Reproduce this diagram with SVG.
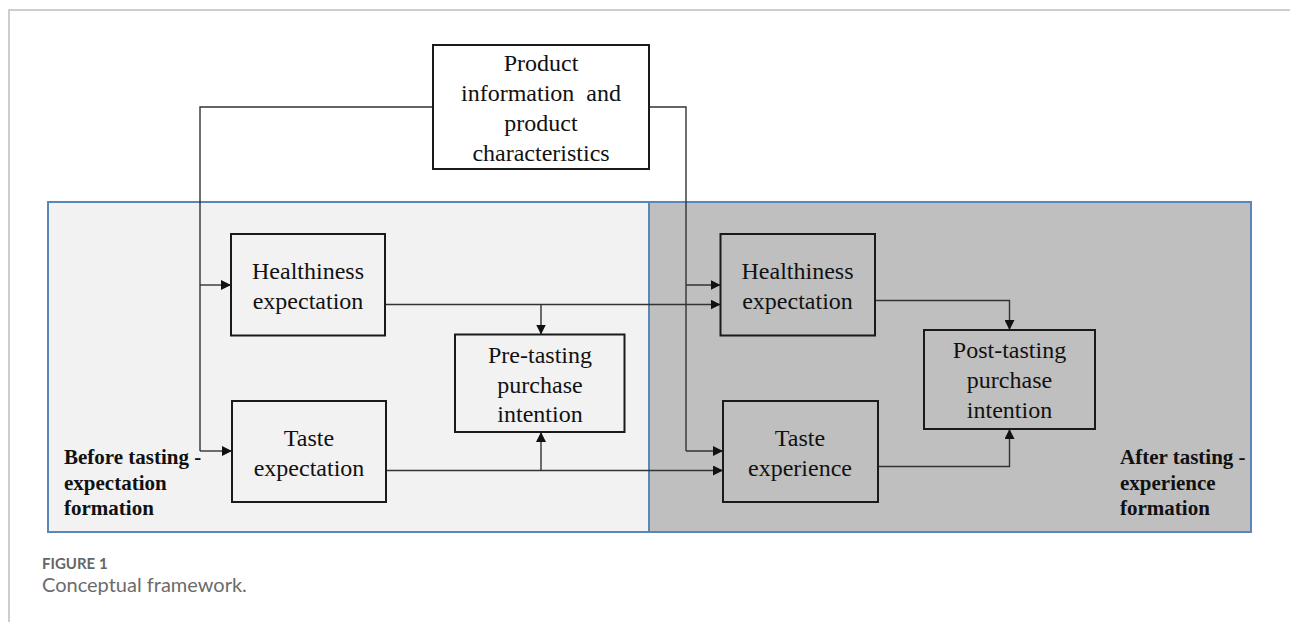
<svg xmlns="http://www.w3.org/2000/svg" width="1290" height="622" viewBox="0 0 1290 622">
<style>
.frame{fill:none;stroke:#bdbdbd;stroke-width:1.5}
.panelL{fill:#f2f2f2;stroke:#5a87b8;stroke-width:2}
.panelR{fill:#bfbfbf;stroke:#5a87b8;stroke-width:2}
.box{stroke:#1a1a1a;stroke-width:2}
.t{font-family:"Liberation Serif","Times New Roman",serif;font-size:24px;fill:#111;text-anchor:middle}
.b{font-family:"Liberation Serif","Times New Roman",serif;font-size:21px;font-weight:bold;fill:#111}
.conn{fill:none;stroke:#333;stroke-width:1.4}
.cap1{font-family:Lato,"Open Sans",sans-serif;font-size:15px;font-weight:bold;fill:#666}
.cap2{font-family:Lato,"Open Sans",sans-serif;font-size:20px;fill:#6b6b6b}
</style>
<defs>
<marker id="ah" viewBox="0 0 10 10" refX="10" refY="5" markerWidth="10" markerHeight="10" markerUnits="userSpaceOnUse" orient="auto">
<path d="M0,0 L10,5 L0,10 Z" fill="#111"/>
</marker>
</defs>
<path class="frame" d="M1290,10 H9 V622"/>
<g id="panel-before"><rect class="panelL" x="48" y="202" width="601" height="330"/>
<text class="b" x="64" y="464">Before tasting -</text>
<text class="b" x="64" y="490">expectation</text>
<text class="b" x="64" y="515">formation</text></g>
<g id="panel-after"><rect class="panelR" x="649" y="202" width="602" height="330"/>
<text class="b" x="1120" y="464">After tasting -</text>
<text class="b" x="1120" y="490">experience</text>
<text class="b" x="1120" y="515">formation</text></g>
<g id="connectors">
<path class="conn" d="M433,107 H200 V451"/>
<path class="conn" d="M200,285 H231" marker-end="url(#ah)"/>
<path class="conn" d="M200,451 H232" marker-end="url(#ah)"/>
<path class="conn" d="M649,107 H686 V451"/>
<path class="conn" d="M686,285 H720.5" marker-end="url(#ah)"/>
<path class="conn" d="M686,451 H723" marker-end="url(#ah)"/>
<path class="conn" d="M385,304.5 H720.5" marker-end="url(#ah)"/>
<path class="conn" d="M541,304.5 V334.5" marker-end="url(#ah)"/>
<path class="conn" d="M386,470.5 H723" marker-end="url(#ah)"/>
<path class="conn" d="M541,470.5 V432" marker-end="url(#ah)"/>
<path class="conn" d="M875,300.5 H1009.5 V330" marker-end="url(#ah)"/>
<path class="conn" d="M878,466.5 H1009.5 V429" marker-end="url(#ah)"/>
</g>
<g id="product"><rect class="box" x="433" y="45" width="216" height="124" fill="#fff"/>
<text class="t" x="541" y="71">Product</text>
<text class="t" x="541" y="101" xml:space="preserve">information  and</text>
<text class="t" x="541" y="131">product</text>
<text class="t" x="541" y="161">characteristics</text></g>
<g id="health-exp"><rect class="box" x="231" y="234" width="154" height="101.5" fill="#f2f2f2"/>
<text class="t" x="308" y="279">Healthiness</text>
<text class="t" x="308" y="309">expectation</text></g>
<g id="taste-exp"><rect class="box" x="232" y="401" width="154" height="101" fill="#f2f2f2"/>
<text class="t" x="309" y="446">Taste</text>
<text class="t" x="309" y="476">expectation</text></g>
<g id="pre-intent"><rect class="box" x="455" y="334.5" width="169.5" height="97.5" fill="#f2f2f2"/>
<text class="t" x="540" y="363">Pre-tasting</text>
<text class="t" x="540" y="393">purchase</text>
<text class="t" x="540" y="422">intention</text></g>
<g id="health-exp2"><rect class="box" x="720.5" y="234" width="154.5" height="101.5" fill="#bfbfbf"/>
<text class="t" x="797.5" y="279">Healthiness</text>
<text class="t" x="797.5" y="309">expectation</text></g>
<g id="taste-experience"><rect class="box" x="723" y="401" width="155" height="101" fill="#bfbfbf"/>
<text class="t" x="800" y="446">Taste</text>
<text class="t" x="800" y="476">experience</text></g>
<g id="post-intent"><rect class="box" x="924" y="330" width="171" height="99" fill="#bfbfbf"/>
<text class="t" x="1009.5" y="358">Post-tasting</text>
<text class="t" x="1009.5" y="388">purchase</text>
<text class="t" x="1009.5" y="418">intention</text></g>
<g id="caption">
<text class="cap1" x="42" y="569">FIGURE 1</text>
<text class="cap2" x="42" y="592">Conceptual framework.</text>
</g>
</svg>
